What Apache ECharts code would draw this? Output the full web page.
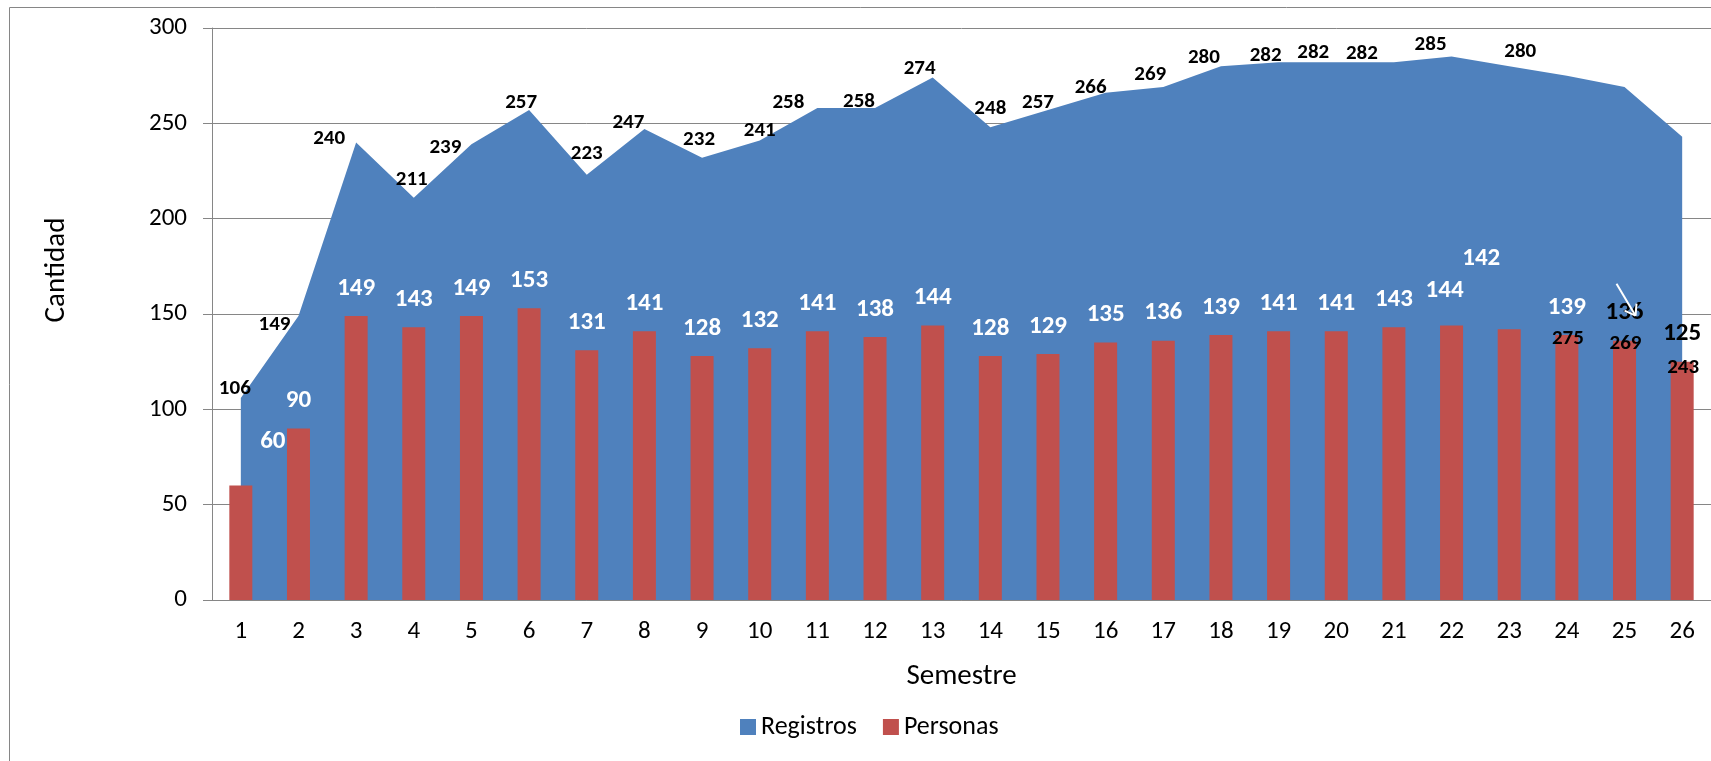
<!DOCTYPE html>
<html>
<head>
<meta charset="utf-8">
<script src="https://cdn.jsdelivr.net/npm/echarts@6/dist/echarts.min.js"></script>
<style>
    html, body { margin: 0; padding: 0; background: #fff; }
    #chart { width: 1711px; height: 761px; }
</style>
</head>
<body>
<div id="chart"></div>
<script>
var semestres = ['1', '2', '3', '4', '5', '6', '7', '8', '9', '10', '11', '12', '13',
    '14', '15', '16', '17', '18', '19', '20', '21', '22', '23', '24', '25', '26'];
var registros = [106, 149, 240, 211, 239, 257, 223, 247, 232, 241, 258, 258, 274,
    248, 257, 266, 269, 280, 282, 282, 282, 285, 280, 275, 269, 243];
var personas = [60, 90, 149, 143, 149, 153, 131, 141, 128, 132, 141, 138, 144,
    128, 129, 135, 136, 139, 141, 141, 143, 144, 142, 139, 136, 125];
var yMin = 0, yMax = 300, yStep = 50;

// where the labels were dragged to in the original, in px from the point
var registrosLabelShift = [[-6, -9], [-24, 9], [-27, -4], [-2, -18], [-26, 3], [-8, -7], [0, -21],
    [-16, -6], [-3, -18], [0, -10], [-29, -5], [-16, -6], [-13, -9], [0, -18], [-10, -7],
    [-15, -5], [-13, -12], [-17, -8], [-13, -7], [-23, -10], [-32, -9], [-21, -12], [11, -14],
    [1, 263], [1, 257], [1, 231]];
var personasLabelShift = {0: [32, -16], 21: [-7, -7], 22: [-28, -43]};
var personasLabelBlack = [24, 25];

var font = 'Carlito, Lato, sans-serif';
var blue = '#4F81BD', red = '#C0504D', grey = '#868686';

var myChart = echarts.init(document.getElementById('chart'));

myChart.setOption({
    animation: false,
    textStyle: { fontFamily: font },
    grid: { left: 212, right: -5, top: 28, bottom: 161 },
    legend: {
        left: 735,
        top: 709,
        itemWidth: 16,
        itemHeight: 16,
        itemGap: 26,
        icon: 'rect',
        data: ['Registros', 'Personas'],
        textStyle: { fontSize: 26, color: '#000', fontFamily: font }
    },
    xAxis: {
        type: 'category',
        data: semestres,
        name: 'Semestre',
        nameLocation: 'middle',
        nameGap: 62,
        nameTextStyle: { fontSize: 29, color: '#000', fontFamily: font },
        axisLine: { lineStyle: { color: grey, width: 1 } },
        axisTick: { length: 8, lineStyle: { color: grey } },
        axisLabel: { fontSize: 25, color: '#000', margin: 19, fontFamily: font }
    },
    yAxis: {
        type: 'value',
        min: yMin,
        max: yMax,
        interval: yStep,
        name: 'Cantidad',
        nameLocation: 'middle',
        nameGap: 141,
        nameTextStyle: { fontSize: 29, color: '#000', fontFamily: font, padding: [0, 0, 0, 88] },
        axisLine: { show: true, lineStyle: { color: grey, width: 1 } },
        axisTick: { show: true, length: 9, lineStyle: { color: grey } },
        splitLine: { lineStyle: { color: grey, width: 1 } },
        axisLabel: { fontSize: 25, color: '#000', margin: 25, fontFamily: font }
    },
    series: [
        {
            name: 'Registros',
            type: 'line',
            data: registros,
            z: 1,
            symbol: 'none',
            lineStyle: { width: 0 },
            itemStyle: { color: blue },
            areaStyle: { color: blue, opacity: 1 }
        },
        {
            name: 'Personas',
            type: 'bar',
            z: 2,
            barWidth: 23,
            itemStyle: { color: red },
            data: personas.map(function (v, i) {
                var lab = {};
                if (personasLabelShift[i]) lab.offset = personasLabelShift[i];
                if (personasLabelBlack.indexOf(i) >= 0) lab.color = '#000';
                return { value: v, label: lab };
            }),
            label: {
                show: true,
                position: 'top',
                distance: 15,
                color: '#fff',
                fontSize: 25,
                fontWeight: 'bold',
                fontFamily: font
            }
        },
        {
            // labels of Registros, kept above the bars
            type: 'line',
            z: 5,
            data: registros.map(function (v, i) {
                return { value: v, label: { offset: registrosLabelShift[i] } };
            }),
            symbol: 'circle',
            symbolSize: 1,
            itemStyle: { color: 'transparent' },
            lineStyle: { width: 0, opacity: 0 },
            silent: true,
            label: {
                show: true,
                position: 'inside',
                color: '#000',
                fontSize: 21,
                fontWeight: 'bold',
                fontFamily: font
            }
        }
    ]
});

// outer frame and the white arrow pointing at the label of semester 25
var tip = myChart.convertToPixel({ seriesIndex: 1 }, [semestres[24], personas[24]]);
var a0 = [tip[0] - 8, tip[1] - 57], a1 = [tip[0] + 11, tip[1] - 25];
function arrowLine(x1, y1, x2, y2) {
    return {
        type: 'line',
        z: 20,
        silent: true,
        shape: { x1: x1, y1: y1, x2: x2, y2: y2 },
        style: { stroke: '#fff', lineWidth: 2 }
    };
}
myChart.setOption({
    graphic: [{
        id: 'frame',
        type: 'rect',
        left: 7,
        top: 5,
        shape: { width: 1760, height: 820 },
        style: { fill: null, stroke: grey, lineWidth: 1 },
        silent: true,
        z: -10
    }, {
        id: 'arrow',
        type: 'group',
        children: [
            arrowLine(a0[0], a0[1], a1[0], a1[1]),
            arrowLine(a1[0], a1[1], a1[0] - 11, a1[1] - 5),
            arrowLine(a1[0], a1[1], a1[0] + 1, a1[1] - 12)
        ]
    }]
});
</script>
</body>
</html>
